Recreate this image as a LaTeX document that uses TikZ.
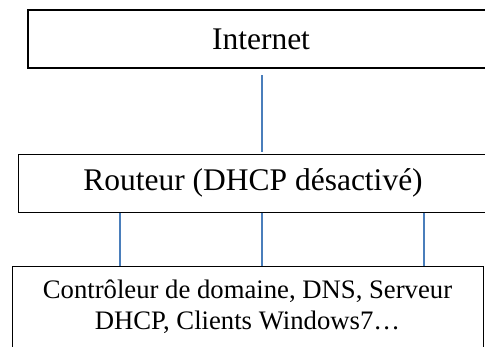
\documentclass[tikz,border=0pt]{standalone}
\usepackage{fontspec}
\setmainfont{LiberationSerif}[Extension=.ttf, UprightFont=*-Regular, BoldFont=*-Bold,
    ItalicFont=*-Italic, BoldItalicFont=*-BoldItalic]
\usepackage{xcolor}
\usepackage{tikz}
\usetikzlibrary{positioning,calc}
\definecolor{lienbleu}{HTML}{4A7EBB}

\tikzset{
    boite/.style={draw=black, line width=1pt, inner sep=0pt, align=center},
    lien/.style={draw=lienbleu, line width=1.1pt}
}

\begin{document}
\begin{tikzpicture}[x=1pt, y=-1pt]
    \useasboundingbox (0,0) rectangle (485,346);
    \clip (0,0) rectangle (485,346);

    % Boites
    \node[boite, line width=2pt, minimum width=466pt, minimum height=58pt,
          font=\fontsize{31.5}{37}\selectfont] (internet) at (261,39) {Internet};
    \node[boite, minimum width=470pt, minimum height=58pt,
          font=\fontsize{31.5}{37}\selectfont] (routeur) at (253,183) {Routeur (DHCP désactivé)};
    \node[boite, minimum width=471pt, minimum height=82pt,
          font=\fontsize{26.7}{31}\selectfont] (clients) at (247.5,307)
          {Contrôleur de domaine, DNS, Serveur\\DHCP, Clients Windows7…};

    % Liens
    \draw[lien, shorten <=6pt, shorten >=2pt] ([xshift=1pt]internet.south) -- ([xshift=9pt]routeur.north);
    \foreach \dx in {-133,9,171}
        \draw[lien] ([xshift=\dx pt]routeur.south) -- ([xshift=\dx pt]routeur.south |- clients.north);
\end{tikzpicture}
\end{document}
